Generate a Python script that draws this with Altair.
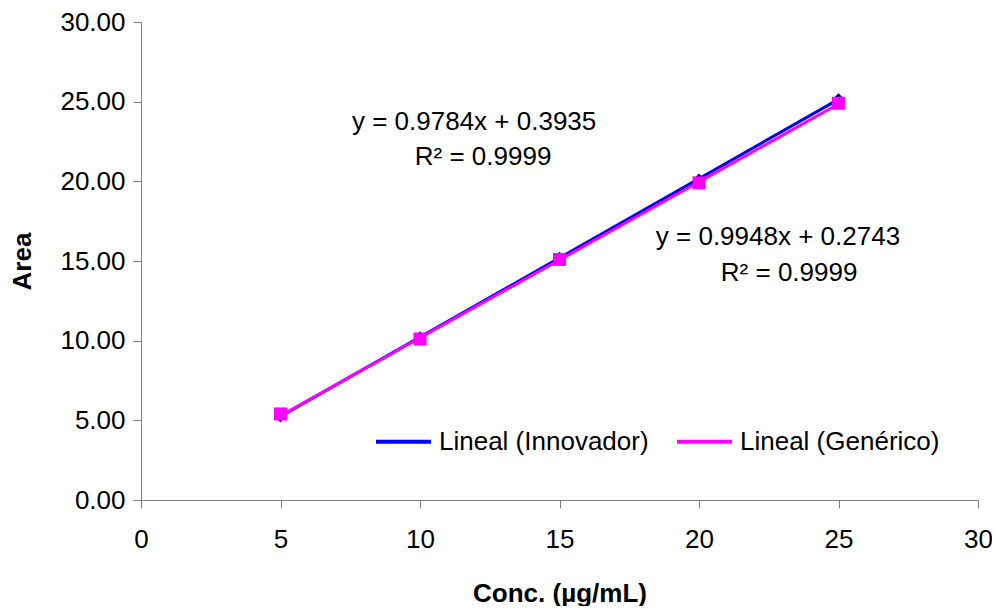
import altair as alt
import pandas as pd

conc = [5, 10, 15, 20, 25]
innovador = [5.25, 10.2, 15.2, 20.1, 25.15]
generico = [5.4, 10.1, 15.1, 19.9, 24.9]

fit_innov = (0.9948, 0.2743)
fit_gen = (0.9784, 0.3935)
series_names = ["Lineal (Innovador)", "Lineal (Genérico)"]
colors = ["#0000FF", "#FF00FF"]

eq_text = ["y = 0.9784x + 0.3935", "R² = 0.9999", "y = 0.9948x + 0.2743", "R² = 0.9999"]
eq_x = [11.94, 12.26, 22.83, 23.23]
eq_y = [23.73, 21.5, 16.51, 14.25]

pts = pd.DataFrame({
    "x": conc * 2,
    "y": innovador + generico,
    "s": ["Innovador"] * 5 + ["Genérico"] * 5,
})
lines = pd.DataFrame({
    "x": [5, 25, 5, 25],
    "y": [fit_innov[0] * 5 + fit_innov[1], fit_innov[0] * 25 + fit_innov[1],
          fit_gen[0] * 5 + fit_gen[1], fit_gen[0] * 25 + fit_gen[1]],
    "s": [series_names[0]] * 2 + [series_names[1]] * 2,
    "o": [0, 0, 1, 1],
})
texts = pd.DataFrame({"x": eq_x, "y": eq_y, "t": eq_text})

FONT = "Liberation Sans"
xs = alt.Scale(domain=[0, 30], nice=False)
ys = alt.Scale(domain=[0, 30], nice=False)
xax = alt.Axis(values=[0, 5, 10, 15, 20, 25, 30], title="Conc. (µg/mL)", grid=False,
               labelPadding=18, titlePadding=28, labelFlush=False)
yax = alt.Axis(values=[0, 5, 10, 15, 20, 25, 30], format=".2f", title="Area", grid=False,
               labelPadding=8, titlePadding=24, labelFlush=False)

line_chart = alt.Chart(lines).mark_line(strokeWidth=3).encode(
    x=alt.X("x:Q", scale=xs, axis=xax),
    y=alt.Y("y:Q", scale=ys, axis=yax),
    color=alt.Color("s:N", scale=alt.Scale(domain=series_names, range=colors),
                    sort=series_names,
                    legend=alt.Legend(title=None, orient="none", legendX=233, legendY=390,
                                      direction="horizontal", symbolType="stroke",
                                      symbolStrokeWidth=4, symbolSize=3025,
                                      labelFontSize=26, labelFont=FONT, labelLimit=0,
                                      labelColor="black", columnPadding=20,
                                      labelOffset=6, padding=0)),
    detail="s:N",
    order="o:Q",
)

innov_pts = alt.Chart(pts[pts.s == "Innovador"]).mark_point(
    shape="diamond", filled=True, size=150, color="#000099", opacity=1
).encode(x=alt.X("x:Q", scale=xs), y=alt.Y("y:Q", scale=ys))

gen_pts = alt.Chart(pts[pts.s == "Genérico"]).mark_square(
    size=170, color="#FF00FF", opacity=1
).encode(x=alt.X("x:Q", scale=xs), y=alt.Y("y:Q", scale=ys))

text_chart = alt.Chart(texts).mark_text(
    fontSize=26, font=FONT, color="black", align="center", baseline="middle"
).encode(x=alt.X("x:Q", scale=xs), y=alt.Y("y:Q", scale=ys), text="t:N")

chart = alt.layer(innov_pts, line_chart, gen_pts, text_chart).properties(
    width=837, height=478,
    autosize=alt.AutoSizeParams(type="none"),
    padding={"left": 141, "top": 22, "right": 14, "bottom": 106},
).configure_view(stroke=None).configure_axis(
    domainColor="#808080", tickColor="#808080", tickSize=8,
    labelFont=FONT, labelFontSize=26, labelColor="black",
    titleFont=FONT, titleFontSize=26, titleFontWeight="bold", titleColor="black",
)

chart.save("out.html", embed_options={"renderer": "svg", "actions": False})

with open("out.html", encoding="utf-8") as f:
    html = f.read()
html = html.replace(
    "<head>",
    "<head><style>html,body{margin:0;padding:0;overflow:hidden;}</style>",
    1,
)
with open("out.html", "w", encoding="utf-8") as f:
    f.write(html)
